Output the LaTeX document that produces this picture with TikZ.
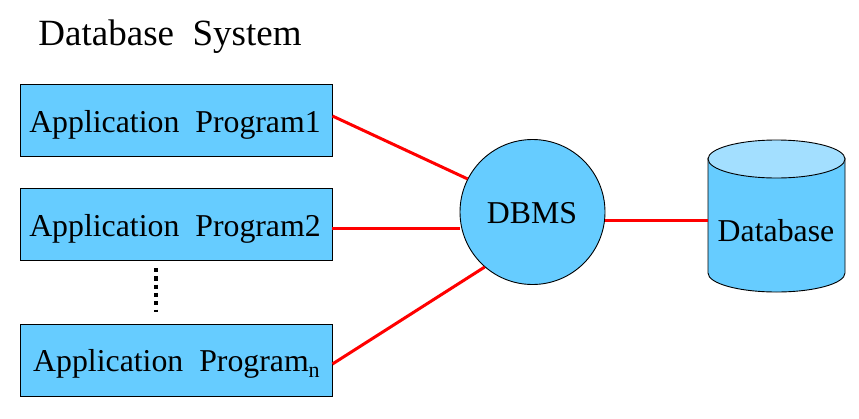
\documentclass[tikz,border=0pt]{standalone}
\usepackage{fontspec}
\setmainfont{Liberation Serif}
\usetikzlibrary{shapes.geometric}
\definecolor{boxblue}{HTML}{66CCFF}
\definecolor{capblue}{HTML}{A3DFFF}
\tikzset{
  x=1pt,y=-1pt,
  appbox/.style={draw=black,line width=0.9pt,fill=boxblue,minimum width=312pt,minimum height=72pt,inner sep=0pt},
  link/.style={draw=red,line width=3pt},
  lbl/.style={inner sep=0pt,font=\fontsize{31.8}{35}\selectfont}
}
\begin{document}
\begin{tikzpicture}
\useasboundingbox (0,0) rectangle (859,418);
\fill[white] (0,0) rectangle (859,418);
\node[lbl,font=\fontsize{37}{40}\selectfont] (title) at (170,36.5) {Database\ \ System};
\node[appbox] (a1) at (176,120) {};
\node[appbox] (a2) at (176,224) {};
\node[appbox] (an) at (176,360) {};
\node[lbl] (t1) at (175,124.5) {Application\ \ Program1};
\node[lbl] (t2) at (175,228.5) {Application\ \ Program2};
\node[lbl,anchor=base west] (tn) at (33,371) {Application\ \ Program\raisebox{-6pt}{\fontsize{22}{22}\selectfont n}};
\node[circle,draw=black,line width=0.9pt,fill=boxblue,minimum size=145pt,inner sep=0pt] (dbms) at (532.5,212) {};
\node[lbl] (dbmstext) at (532,213) {DBMS};
\coordinate (dbleft) at (708,220);
\draw[black,line width=0.9pt,fill=boxblue] (708,158) -- (708,273) arc[start angle=180,end angle=360,x radius=68.5,y radius=-19] -- (845,158) -- cycle;
\draw[black,line width=0.9pt,fill=capblue] (776.5,159) ellipse[x radius=68.5,y radius=19];
\node[lbl] (db) at (776,231) {Database};
\draw[link] (a1.east) ++(0,-4) coordinate (p1) (p1) -- (dbms.153.4);
\draw[link] (a2.east) ++(0,4) coordinate (p2) (p2) -- (dbms.west |- p2);
\draw[link] (an.east) ++(0,4) coordinate (p3) (p3) -- (dbms.229.4);
\draw[link] (dbms.east |- dbleft) -- (dbleft);
\draw[black,line width=4.5pt,dash pattern=on 4.2pt off 4.1pt] (156,268) -- (156,312);
\end{tikzpicture}
\end{document}
